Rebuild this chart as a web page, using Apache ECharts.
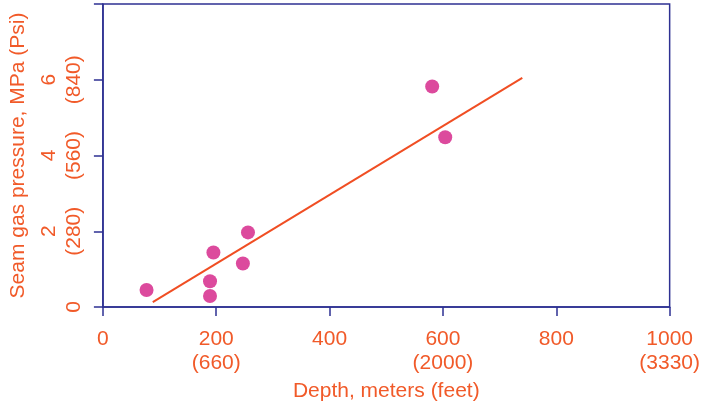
<!DOCTYPE html>
<html><head><meta charset="utf-8">
<script src="https://cdn.jsdelivr.net/npm/echarts@6/dist/echarts.min.js"></script>
<style>html,body{margin:0;padding:0;background:#fff}#c{width:703px;height:407px}</style>
</head><body><div id="c"></div>
<script>
const depth = [77, 189, 189, 195, 247, 256, 581, 604];
const pressure = [0.45, 0.29, 0.68, 1.44, 1.15, 1.97, 5.82, 4.48];
const fitX = [88, 740];
const fitY = [0.13, 6.05];
const xTicks = [0, 200, 400, 600, 800, 1000];
const xLabels = ['0', '200\n(660)', '400', '600\n(2000)', '800', '1000\n(3330)'];
const yTicks = [0, 2, 4, 6, 8];
const yLabels = ['0', '2\n(280)', '4\n(560)', '6\n(840)', ''];

const txt = '#f15a29', axisCol = '#2e3192', font = 'Liberation Sans, Arial, sans-serif';
const chart = echarts.init(document.getElementById('c'));
chart.setOption({
  animation: false,
  grid: {left: 101, right: 33, top: 4, bottom: 98, show: true, borderColor: axisCol, borderWidth: 1.5},
  xAxis: {
    type: 'value', min: 0, max: 1000, interval: 200,
    name: 'Depth, meters (feet)', nameLocation: 'middle', nameGap: 74,
    nameTextStyle: {color: txt, fontSize: 21, fontFamily: font},
    axisLine: {show: true, lineStyle: {color: axisCol, width: 1.5}},
    axisTick: {show: true, length: 9, inside: false, lineStyle: {color: axisCol, width: 1.5}},
    splitLine: {show: false},
    axisLabel: {color: txt, fontSize: 21, fontFamily: font, margin: 20, lineHeight: 24,
      formatter: v => xLabels[xTicks.indexOf(v)] ?? ''}
  },
  yAxis: {
    type: 'value', min: 0, max: 8, interval: 2,
    name: 'Seam gas pressure, MPa (Psi)', nameLocation: 'middle', nameGap: 72,
    nameTextStyle: {color: txt, fontSize: 21, fontFamily: font},
    axisLine: {show: true, lineStyle: {color: axisCol, width: 1.5}},
    axisTick: {show: true, length: 9, lineStyle: {color: axisCol, width: 1.5}},
    splitLine: {show: false},
    axisLabel: {color: txt, fontSize: 21, fontFamily: font, rotate: 90, margin: 16, lineHeight: 25,
      formatter: v => yLabels[yTicks.indexOf(v)] ?? ''}
  },
  series: [
    {type: 'line', data: fitX.map((x, i) => [x, fitY[i]]), showSymbol: false, symbol: 'none',
     lineStyle: {color: '#f04e23', width: 2}, z: 2},
    {type: 'scatter', data: depth.map((x, i) => [x, pressure[i]]), symbolSize: 14,
     itemStyle: {color: '#dc4a9d', opacity: 1}, z: 3}
  ]
});
</script></body></html>
